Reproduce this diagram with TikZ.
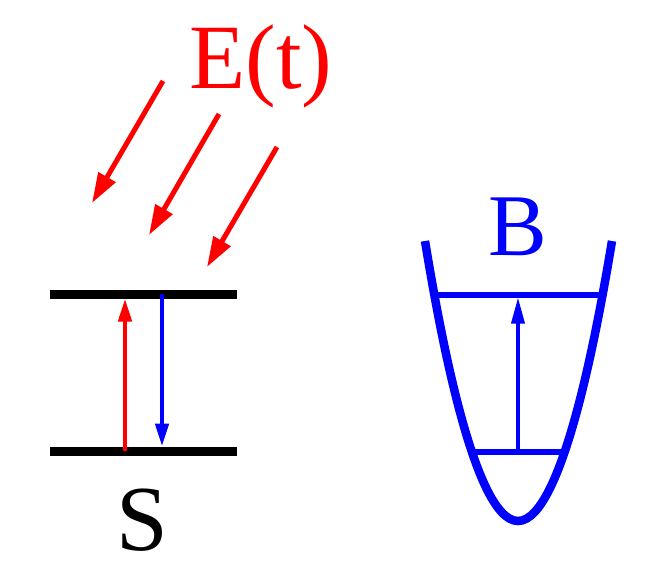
\documentclass[tikz,border=0pt]{standalone}
\usepackage{fontspec}
\setmainfont{Liberation Serif}
\usetikzlibrary{arrows.meta}

\begin{document}
\begin{tikzpicture}[x=1pt,y=-1pt,
                level/.style={line width=9pt},
                blevel/.style={blue,line width=5.5pt},
                field/.style={red,line width=5pt,-{Triangle[width=19pt,length=30pt]}},
                trans/.style={line width=4.5pt,-{Triangle[width=13pt,length=23pt]}},
                label/.style={inner sep=0pt,anchor=base}]
                \useasboundingbox (0,0) rectangle (664,572);
                % two-level system
                 \coordinate (upL) at (50,294);
                 \coordinate (upR) at (237,294);
                 \coordinate (loL) at (50,451);
                 \coordinate (loR) at (237,451);
                 \draw[level] (upL) -- (upR);
                 \draw[level] (loL) -- (loR);
                 \coordinate (absA) at (125,451);
                 \coordinate (absB) at (125,298.5);
                 \coordinate (emA) at (162,294);
                 \coordinate (emB) at (162,446.5);
                 \draw[trans,red] (absA) -- (absB);
                 \draw[trans,blue] (emA) -- (emB);
                 \node[label] (S) at (142,550) {\fontsize{93}{93}\selectfont S};
                % field
                 \node[label,red] (E) at (261,89) {\fontsize{92}{92}\selectfont E(t)};
                 \coordinate (f1a) at (163,81);
                 \coordinate (f1b) at (92,203);
                 \coordinate (f2a) at (219,114);
                 \coordinate (f2b) at (149,235);
                 \coordinate (f3a) at (277,147);
                 \coordinate (f3b) at (207,267);
                 \draw[field] (f1a) -- (f1b);
                 \draw[field] (f2a) -- (f2b);
                 \draw[field] (f3a) -- (f3b);
                % bath
                 \coordinate (wL) at (425,241);
                 \coordinate (wB) at (518,521);
                 \coordinate (wR) at (612,241);
                 \draw[blue,line width=8.5pt] (wL) parabola bend (wB) (wR);
                 \coordinate (b1L) at (437,295);
                 \coordinate (b1R) at (599,295);
                 \coordinate (b0L) at (474,452);
                 \coordinate (b0R) at (563,452);
                 \draw[blevel] (b1L) -- (b1R);
                 \draw[blevel] (b0L) -- (b0R);
                 \coordinate (bA) at (518,452);
                 \coordinate (bB) at (518,297.5);
                 \draw[blue,line width=3.5pt,-{Triangle[width=13pt,length=26pt]}] (bA) -- (bB);
                 \node[label,blue] (B) at (517.5,255) {\fontsize{88}{88}\selectfont B};
            \end{tikzpicture}
\end{document}
